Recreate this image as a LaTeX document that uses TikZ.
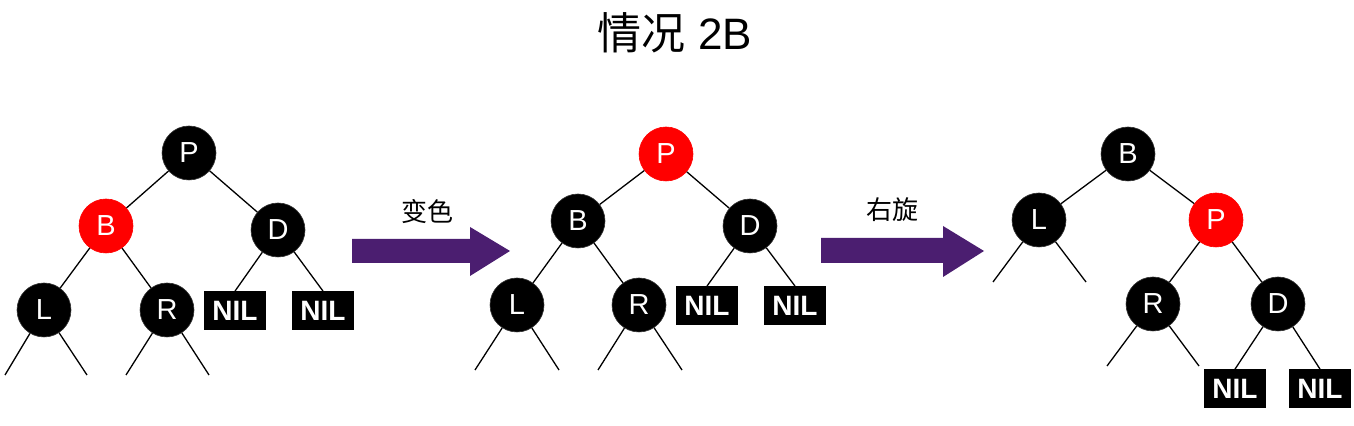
\documentclass[tikz,border=0pt]{standalone}
\usepackage{fontspec}
\setmainfont{Liberation Sans}
\newfontfamily\cjk{Noto Sans CJK SC}
\usepackage{xcolor}
\usetikzlibrary{positioning}
\definecolor{rbred}{RGB}{255,0,0}
\definecolor{bigarrow}{RGB}{75,30,112}
\tikzset{
    blacknode/.style={circle, fill=black, draw=black!80, line width=0.3pt, minimum size=27pt, inner sep=0pt, text=white, font=\fontsize{14.5}{14.5}\selectfont},
    rednode/.style={blacknode, fill=rbred, draw=rbred},
    nilnode/.style={rectangle, fill=black, minimum width=31pt, minimum height=19.5pt, inner sep=0pt, text=white, font=\fontsize{14}{14}\selectfont\bfseries},
    edge/.style={line width=0.65pt},
    fatarrow/.style={fill=bigarrow, draw=none},
    steplabel/.style={font=\cjk\fontsize{13}{13}\selectfont}
}

\begin{document}
\begin{tikzpicture}[x=0.5pt, y=-0.5pt]
            \useasboundingbox (0,0) rectangle (1354,426);
            % title
            \node (title) [font=\fontsize{22}{22}\selectfont] at (675,33) {{\cjk 情况}\ 2B};

            % tree before
            \node (P1) [blacknode] at (189,153) {P};
            \node (B1) [rednode] at (106,226) {B};
            \node (D1) [blacknode] at (278,230) {D};
            \node (L1) [blacknode] at (44,310) {L};
            \node (R1) [blacknode] at (167,310) {R};
            \node (N1a) [nilnode] at (235,311) {NIL};
            \node (N1b) [nilnode] at (323,311) {NIL};
            \coordinate (l1a) at (5,375);
            \coordinate (l1b) at (87,375);
            \coordinate (r1a) at (126,375);
            \coordinate (r1b) at (209,375);

            \draw[edge] (P1) -- (B1);
            \draw[edge] (P1) -- (D1);
            \draw[edge] (B1) -- (L1);
            \draw[edge] (B1) -- (R1);
            \draw[edge] (D1) -- (N1a.north);
            \draw[edge] (D1) -- (N1b.north);
            \draw[edge] (L1) -- (l1a);
            \draw[edge] (L1) -- (l1b);
            \draw[edge] (R1) -- (r1a);
            \draw[edge] (R1) -- (r1b);

            % recolour
            \fill[fatarrow] (352,239) -- (470,239) -- (470,227) -- (510,251) -- (470,276) -- (470,263) -- (352,263) -- cycle;
            \node (recolor) [steplabel] at (427,212) {变色};

            % tree after recolour
            \node (P2) [rednode] at (666,154) {P};
            \node (B2) [blacknode] at (578,221) {B};
            \node (D2) [blacknode] at (750,226) {D};
            \node (L2) [blacknode] at (517,305) {L};
            \node (R2) [blacknode] at (639,305) {R};
            \node (N2a) [nilnode] at (707,306) {NIL};
            \node (N2b) [nilnode] at (795,306) {NIL};
            \coordinate (l2a) at (475,370);
            \coordinate (l2b) at (559,370);
            \coordinate (r2a) at (598,370);
            \coordinate (r2b) at (682,370);

            \draw[edge] (P2) -- (B2);
            \draw[edge] (P2) -- (D2);
            \draw[edge] (B2) -- (L2);
            \draw[edge] (B2) -- (R2);
            \draw[edge] (D2) -- (N2a.north);
            \draw[edge] (D2) -- (N2b.north);
            \draw[edge] (L2) -- (l2a);
            \draw[edge] (L2) -- (l2b);
            \draw[edge] (R2) -- (r2a);
            \draw[edge] (R2) -- (r2b);

            % rotate right
            \fill[fatarrow] (821,238) -- (943,238) -- (943,226) -- (984,251) -- (943,277) -- (943,263) -- (821,263) -- cycle;
            \node (rotate) [steplabel] at (892,210) {右旋};

            % tree after rotation
            \node (B3) [blacknode] at (1128,154) {B};
            \node (L3) [blacknode] at (1039,220) {L};
            \node (P3) [rednode] at (1216,220) {P};
            \node (R3) [blacknode] at (1153,304) {R};
            \node (D3) [blacknode] at (1278,304) {D};
            \node (N3a) [nilnode] at (1235,389) {NIL};
            \node (N3b) [nilnode] at (1320,389) {NIL};
            \coordinate (l3a) at (993,282);
            \coordinate (l3b) at (1086,282);
            \coordinate (r3a) at (1107,366);
            \coordinate (r3b) at (1199,366);

            \draw[edge] (B3) -- (L3);
            \draw[edge] (B3) -- (P3);
            \draw[edge] (P3) -- (R3);
            \draw[edge] (P3) -- (D3);
            \draw[edge] (D3) -- (N3a.north);
            \draw[edge] (D3) -- (N3b.north);
            \draw[edge] (L3) -- (l3a);
            \draw[edge] (L3) -- (l3b);
            \draw[edge] (R3) -- (r3a);
            \draw[edge] (R3) -- (r3b);
\end{tikzpicture}
\end{document}
